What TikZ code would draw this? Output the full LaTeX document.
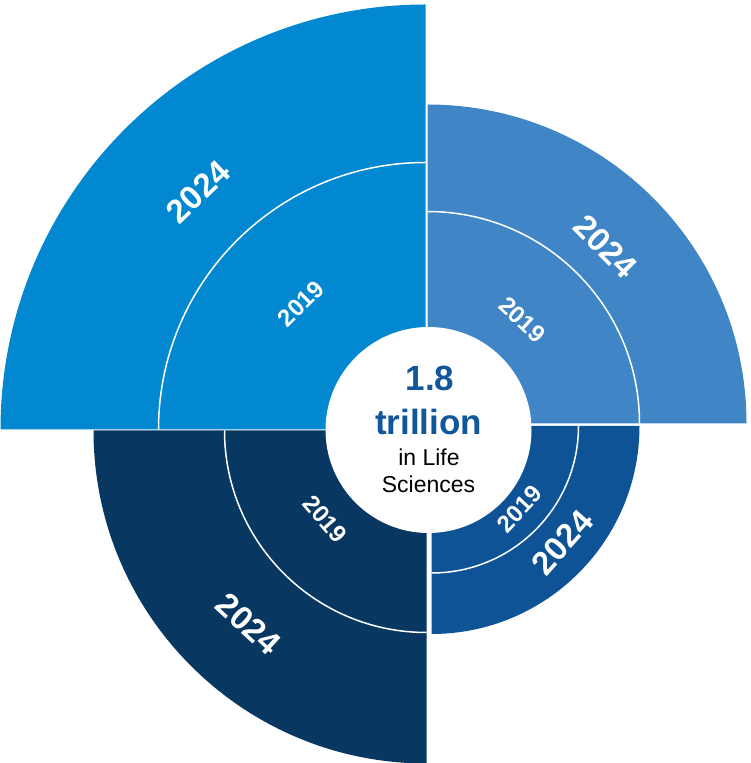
\documentclass[tikz,border=0pt]{standalone}
\usepackage{fontspec}
\setmainfont{Liberation Sans}
\definecolor{colTL}{HTML}{0288D1}
\definecolor{colTR}{HTML}{4085C6}
\definecolor{colBR}{HTML}{0F5397}
\definecolor{colBL}{HTML}{083762}
\definecolor{colTxt}{HTML}{12579A}
\begin{document}
\begin{tikzpicture}[x=1pt,y=1pt,
  ringline/.style={draw=white,line width=1.5pt},
  bigyear/.style={text=white,font=\fontsize{33}{33}\selectfont\bfseries,inner sep=0pt},
  smallyear/.style={text=white,font=\fontsize{24}{24}\selectfont\bfseries,inner sep=0pt},
  hubtext/.style={anchor=base,inner sep=0pt}]
\useasboundingbox (0,0) rectangle (750,763);
% corners of the four quadrants
\coordinate (cTL) at (425.5,333.5);
\coordinate (cTR) at (427.5,339.5);
\coordinate (cBR) at (431.5,337);
\coordinate (cBL) at (426.5,332.5);
% top-left
\fill[colTL] (cTL) -- ++(90:425) arc[start angle=90,end angle=180,radius=425] -- cycle;
\draw[ringline] ([shift={(90:267)}]cTL) arc[start angle=90,end angle=180,radius=267];
% top-right
\fill[colTR] (cTR) -- ++(0:319) arc[start angle=0,end angle=90,radius=319] -- cycle;
\draw[ringline] ([shift={(0:212)}]cTR) arc[start angle=0,end angle=90,radius=212];
% bottom-right
\fill[colBR] (cBR) -- ++(270:208) arc[start angle=270,end angle=360,radius=208] -- cycle;
\draw[ringline] ([shift={(270:147)}]cBR) arc[start angle=270,end angle=360,radius=147];
% bottom-left
\fill[colBL] (cBL) -- ++(180:333) arc[start angle=180,end angle=270,radius=333] -- cycle;
\draw[ringline] ([shift={(180:202)}]cBL) arc[start angle=180,end angle=270,radius=202];
% hub
\node[circle,fill=white,minimum size=206pt,inner sep=0pt] (hub) at (428.5,333) {};
\node[hubtext,text=colTxt,font=\fontsize{35}{35}\selectfont\bfseries] (l1) at (430,372) {1.8};
\node[hubtext,text=colTxt,font=\fontsize{35}{35}\selectfont\bfseries] (l2) at (428.5,328) {trillion};
\node[hubtext,font=\fontsize{23}{23}\selectfont] (l3) at (429,297) {in Life};
\node[hubtext,font=\fontsize{23}{23}\selectfont] (l4) at (428.5,270) {Sciences};
% year labels
\node[bigyear,rotate=43.7] (tl24) at ([shift={(133.7:329)}]cTL) {2024};
\node[smallyear,rotate=44.7] (tl19) at ([shift={(134.7:177)}]cTL) {2019};
\node[bigyear,rotate=-45.2] (tr24) at ([shift={(44.8:251)}]cTR) {2024};
\node[smallyear,rotate=-42.5] (tr19) at ([shift={(47.5:140.5)}]cTR) {2019};
\node[bigyear,rotate=48.4] (br24) at ([shift={(-41.6:175)}]cBR) {2024};
\node[smallyear,rotate=46.7] (br19) at ([shift={(-43.3:121)}]cBR) {2019};
\node[bigyear,rotate=-42.6] (bl24) at ([shift={(227.4:263)}]cBL) {2024};
\node[smallyear,rotate=-49] (bl19) at ([shift={(221.1:134.7)}]cBL) {2019};
\end{tikzpicture}
\end{document}
